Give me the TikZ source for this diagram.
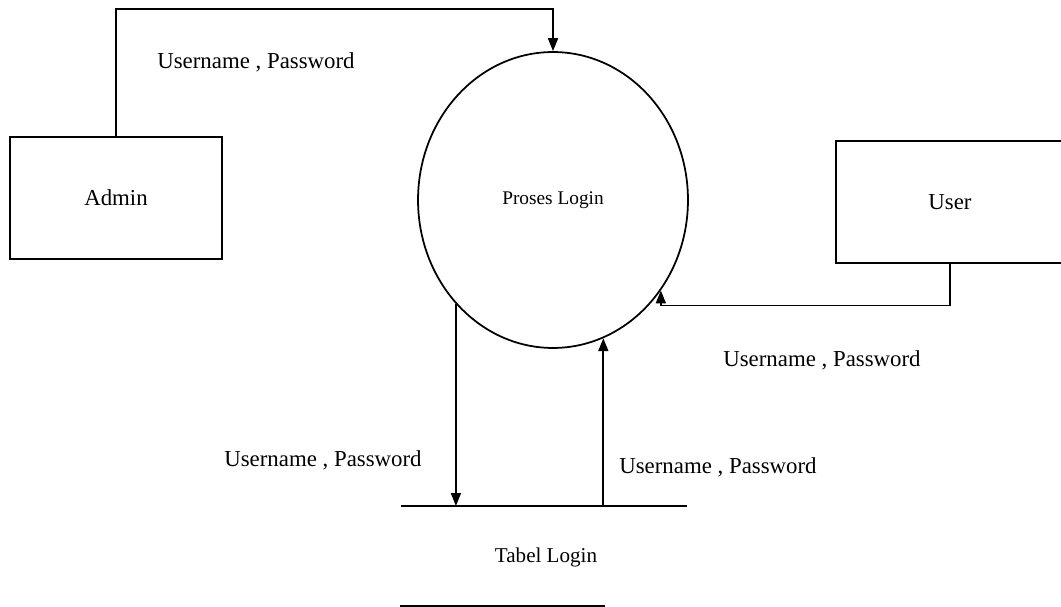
\documentclass[tikz,border=0pt]{standalone}
\usepackage{fontspec}
\setmainfont{Liberation Serif}
\usetikzlibrary{shapes,arrows.meta,positioning}

\begin{document}
\begin{tikzpicture}[
    x=0.02cm, y=-0.02cm,
    entity/.style={rectangle, draw, line width=1pt, minimum width=4.24cm, minimum height=2.44cm, align=center, font=\fontsize{13}{15}\selectfont},
    process/.style={ellipse, draw, line width=1pt, inner sep=0pt, minimum width=5.4cm, minimum height=5.92cm, font=\fontsize{11}{13}\selectfont},
    flow/.style={-{Triangle[length=0.26cm, width=0.2cm]}, line width=1pt},
    store/.style={line width=1pt},
    flowtext/.style={font=\fontsize{13}{15}\selectfont}
]
\useasboundingbox (0,0) rectangle (1061,607);

% Entities and process
\node[entity] (admin) at (116,198) {Admin};
\node[process] (proses) at (553,200) {Proses Login};
\node[entity, minimum width=4.56cm] (user) at (950,202) {User};

% Data store
\coordinate (storetl) at (401,506);
\coordinate (storetr) at (687,506);
\coordinate (storebl) at (400,606);
\coordinate (storebr) at (605,606);
\draw[store] (storetl) -- (storetr);
\draw[store] (storebl) -- (storebr);
\node[font=\fontsize{12}{14}\selectfont] (tabel) at (546,557) {Tabel Login};

% Data flows
\draw[flow] (admin.north) |- ([yshift=0.84cm]proses.north) -- (proses.north);
\draw[flow] (user.south) |- ([yshift=-0.3cm]proses.-40) -- (proses.-40);
\draw[flow] (proses.-133) -- (proses.-133 |- storetl);
\draw[flow] (proses.-70.5 |- storetl) -- (proses.-70.5);

% Flow labels
\node[flowtext] (lbladmin) at (256,62) {Username , Password};
\node[flowtext] (lbluser) at (822,360) {Username , Password};
\node[flowtext] (lblread) at (323,460) {Username , Password};
\node[flowtext] (lblwrite) at (718,467) {Username , Password};

\end{tikzpicture}
\end{document}
